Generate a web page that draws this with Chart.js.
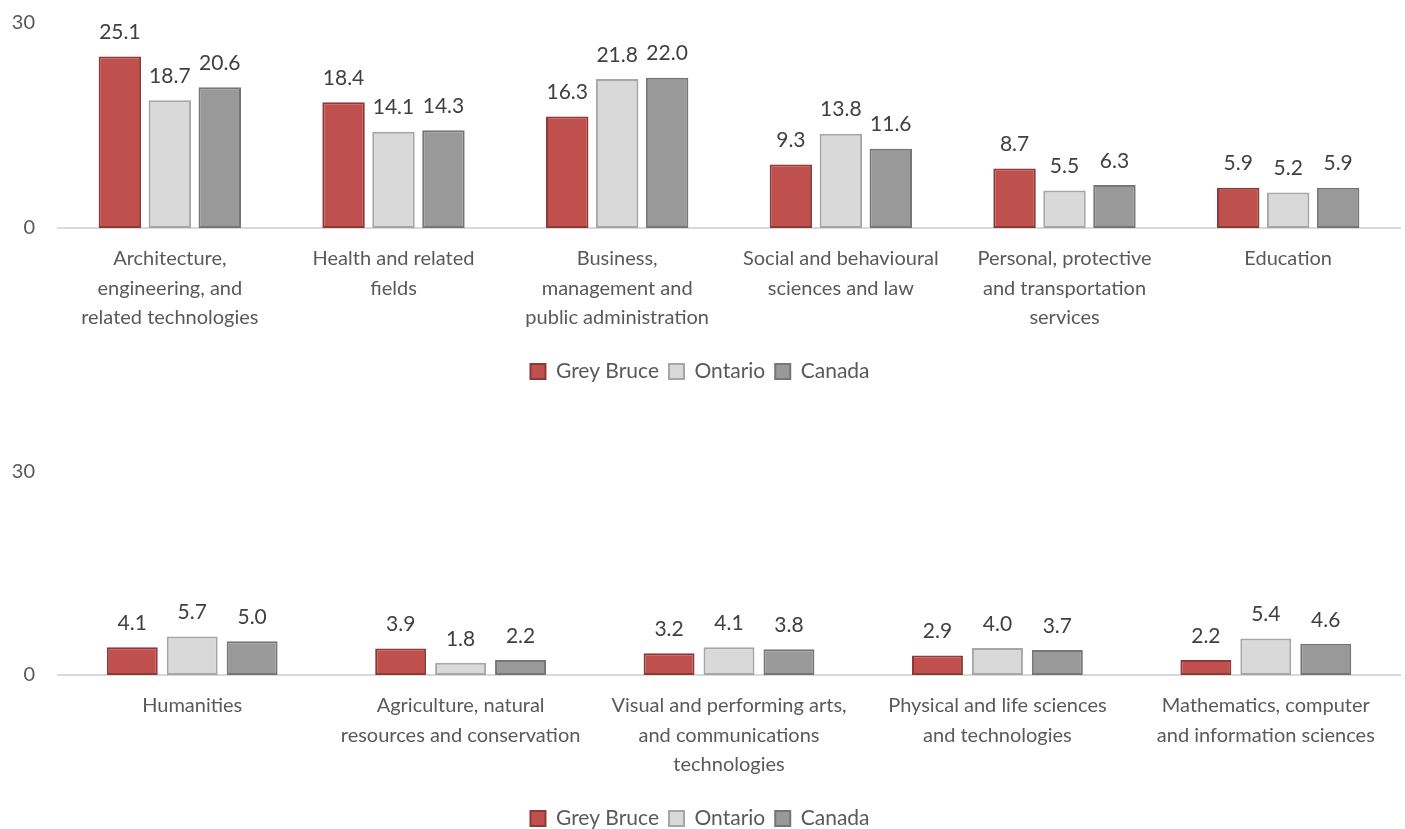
<!DOCTYPE html>
<html>
<head>
<meta charset="utf-8">
<script src="https://cdn.jsdelivr.net/npm/chart.js@4/dist/chart.umd.min.js"></script>
<style>
  html, body { margin: 0; padding: 0; background: #ffffff; overflow: hidden; width: 1405px; height: 829px; }
  #c1 { position: absolute; left: 0; top: 0; }
  #c2 { position: absolute; left: 0; top: 446px; }
</style>
</head>
<body>
<canvas id="c1" width="1405" height="392"></canvas>
<canvas id="c2" width="1405" height="393"></canvas>
<script>
const seriesNames = ["Grey Bruce", "Ontario", "Canada"];

const categoriesTop = [
  ["Architecture,", "engineering, and", "related technologies"],
  ["Health and related", "fields"],
  ["Business,", "management and", "public administration"],
  ["Social and behavioural", "sciences and law"],
  ["Personal, protective", "and transportation", "services"],
  ["Education"]
];
const greyBruceTop = [25.1, 18.4, 16.3, 9.3, 8.7, 5.9];
const ontarioTop   = [18.7, 14.1, 21.8, 13.8, 5.5, 5.2];
const canadaTop    = [20.6, 14.3, 22.0, 11.6, 6.3, 5.9];

const categoriesBottom = [
  ["Humanities"],
  ["Agriculture, natural", "resources and conservation"],
  ["Visual and performing arts,", "and communications", "technologies"],
  ["Physical and life sciences", "and technologies"],
  ["Mathematics, computer", "and information sciences"]
];
const greyBruceBottom = [4.1, 3.9, 3.2, 2.9, 2.2];
const ontarioBottom   = [5.7, 1.8, 4.1, 4.0, 5.4];
const canadaBottom    = [5.0, 2.2, 3.8, 3.7, 4.6];

const yTicks = [0, 30];

const FONT = "Lato, 'Open Sans', sans-serif";
const TEXT = "#595959";

const fills   = ["#C0504D", "#D9D9D9", "#999999"];
const borders = ["#8C3A38", "#A6A6A6", "#767676"];

const valueLabels = {
  id: "valueLabels",
  afterDatasetsDraw(chart) {
    const ctx = chart.ctx;
    ctx.save();
    ctx.font = "21px " + FONT;
    ctx.fillStyle = "#404040";
    ctx.textAlign = "center";
    ctx.textBaseline = "middle";
    chart.data.datasets.forEach((ds, i) => {
      const meta = chart.getDatasetMeta(i);
      meta.data.forEach((bar, j) => {
        ctx.fillText(ds.data[j].toFixed(1), bar.x, bar.y - 24);
      });
    });
    ctx.restore();
  }
};

function makeChart(id, labels, a, b, c, padTop) {
  const data = [a, b, c];
  return new Chart(document.getElementById(id), {
    type: "bar",
    data: {
      labels: labels,
      datasets: seriesNames.map((n, i) => ({
        label: n,
        data: data[i],
        backgroundColor: fills[i],
        borderColor: borders[i],
        borderWidth: 2,
        borderSkipped: false,
        categoryPercentage: 0.67,
        barPercentage: 0.85
      }))
    },
    options: {
      responsive: false,
      animation: false,
      layout: { padding: { top: padTop, left: 0, right: 5, bottom: 0 } },
      scales: {
        x: {
          grid: { display: false, drawTicks: false },
          border: { display: true, color: "#D9D9D9", width: 2 },
          ticks: {
            font: { family: FONT, size: 20, lineHeight: 1.48 },
            color: TEXT,
            padding: 16,
            maxRotation: 0,
            autoSkip: false
          },
          afterFit(scale) { scale.height = 123; }
        },
        y: {
          min: yTicks[0],
          max: yTicks[yTicks.length - 1],
          grid: { display: false, drawTicks: false },
          border: { display: false },
          afterBuildTicks(scale) { scale.ticks = yTicks.map(v => ({ value: v })); },
          ticks: {
            font: { family: FONT, size: 20 },
            color: TEXT,
            padding: 23
          },
          afterFit(scale) {
            scale.width = 58;
            scale.paddingTop = 0;
            scale.paddingBottom = 0;
          }
        }
      },
      plugins: {
        legend: {
          position: "bottom",
          labels: {
            font: { family: FONT, size: 21 },
            color: TEXT,
            boxWidth: 15,
            boxHeight: 15,
            padding: 10
          }
        },
        tooltip: { enabled: false }
      }
    },
    plugins: [valueLabels]
  });
}

makeChart("c1", categoriesTop, greyBruceTop, ontarioTop, canadaTop, 23);
makeChart("c2", categoriesBottom, greyBruceBottom, ontarioBottom, canadaBottom, 26);
</script>
</body>
</html>
